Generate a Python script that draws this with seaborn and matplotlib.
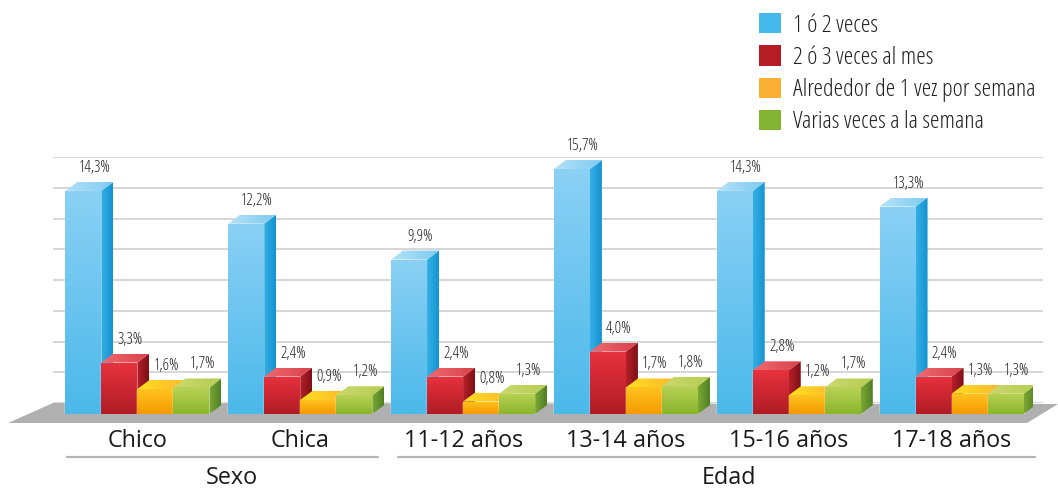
import os
import numpy as np
import pandas as pd
import matplotlib
matplotlib.use("Agg")
from matplotlib import pyplot as plt
from matplotlib.colors import LinearSegmentedColormap
from matplotlib.font_manager import FontProperties
from matplotlib.patches import Patch, Polygon
from matplotlib.transforms import Affine2D, blended_transform_factory
import seaborn as sns

categorias = ["Chico", "Chica", "11-12 años", "13-14 años", "15-16 años", "17-18 años"]
frecuencias = ["1 ó 2 veces", "2 ó 3 veces al mes", "Alrededor de 1 vez por semana", "Varias veces a la semana"]
una_dos = [14.3, 12.2, 9.9, 15.7, 14.3, 13.3]
dos_tres = [3.3, 2.4, 2.4, 4.0, 2.8, 2.4]
semanal = [1.6, 0.9, 0.8, 1.7, 1.2, 1.3]
varias = [1.7, 1.2, 1.3, 1.8, 1.7, 1.3]
valores = [una_dos, dos_tres, semanal, varias]

colores = ["#45b9ec", "#b61c23", "#fbb034", "#82b431"]
# degradados: frente (arriba, abajo), lado y tapa (izquierda, derecha)
frente = [("#8bd0f5", "#4bb9ea"), ("#e8323f", "#b01c24"), ("#ffc31f", "#f59a00"), ("#b9d256", "#8ab52c")]
lado = [("#35b0e5", "#1492d0"), ("#b5202a", "#7d1015"), ("#f7a800", "#e08a00"), ("#7ca833", "#4f7f25")]
tapa = [("#b5e2f8", "#7ccaf0"), ("#ef6a70", "#d8404a"), ("#ffdf20", "#fdb72e"), ("#cbd96e", "#b5cc50")]

W, H = 1058, 488
DX, DY = 12, 9  # profundidad de las barras en pixeles

sns.set_theme(style="white")
plt.rcParams["font.family"] = ["Open Sans", "DejaVu Sans"]


def fuente_estrecha(size):
    ruta = "/usr/share/fonts/truetype/open-sans/OpenSans-CondLight.ttf"
    if os.path.exists(ruta):
        return FontProperties(fname=ruta, size=size)
    return FontProperties(family="Open Sans", stretch="condensed", weight="light", size=size)


df = pd.DataFrame({
    "categoria": np.tile(categorias, len(frecuencias)),
    "frecuencia": np.repeat(frecuencias, len(categorias)),
    "valor": np.concatenate(valores),
})

fig = plt.figure(figsize=(W / 100, H / 100), dpi=100)
px = Affine2D().scale(1, -1).translate(0, H)  # coordenadas de imagen


def caja(x0, x1, y_sup, y_inf):
    return [x0 / W, 1 - y_inf / H, (x1 - x0) / W, (y_inf - y_sup) / H]


# pared del fondo con la rejilla
fondo = fig.add_axes(caja(53, 1043, 157, 403))
fondo.set_xlim(0, 1)
fondo.set_ylim(0, 16)
fondo.set_xticks([])
fondo.set_yticks(np.arange(0, 17, 2))
fondo.tick_params(left=False, labelleft=False)
fondo.grid(axis="y", color="#cfcfcf", linewidth=1.2)
sns.despine(ax=fondo, left=True, bottom=True)
fondo.add_patch(Polygon([(8, 423), (53, 403), (1058, 404), (1027, 423)], closed=True,
                        transform=px, facecolor="#b0b0b0", edgecolor="none", clip_on=False, zorder=2))

ax = fig.add_axes(caja(56, 1033, 102, 414))
ax.patch.set_alpha(0)
sns.barplot(data=df, x="categoria", y="valor", hue="frecuencia", order=categorias, hue_order=frecuencias,
            palette=colores, width=0.885, gap=0, errorbar=None, legend=False, ax=ax, zorder=3)
ax.set_xlim(-0.5, 5.5)
ax.set_ylim(0, 20)
ax.set_xlabel("")
ax.set_ylabel("")
ax.set_yticks([])
ax.tick_params(axis="x", length=0, pad=10.5, labelsize=16.8, labelcolor="#1a1a1a")
sns.despine(ax=ax, left=True, bottom=True)


def degradado(vertices, c1, c2, vertical, z):
    # vertices en pixeles de pantalla, se pasan a datos para recortar la imagen
    datos = ax.transData.inverted().transform(vertices)
    cmap = LinearSegmentedColormap.from_list("g", [c1, c2])
    g = np.linspace(0, 1, 64)
    g = g.reshape(-1, 1) if vertical else g.reshape(1, -1)
    x0, y0 = datos.min(axis=0)
    x1, y1 = datos.max(axis=0)
    im = ax.imshow(g, cmap=cmap, extent=(x0, x1, y0, y1), origin="upper", aspect="auto", zorder=z,
                   interpolation="bilinear")
    im.set_clip_path(Polygon(datos, closed=True, transform=ax.transData))


for i, cont in enumerate(ax.containers):
    for barra, v in zip(cont.patches, valores[i]):
        z = 3 + i
        barra.set_zorder(z)
        x0, y0 = ax.transData.transform((barra.get_x(), 0))
        x1, y1 = ax.transData.transform((barra.get_x() + barra.get_width(), v))
        degradado([(x1, y0), (x1 + DX, y0 + DY), (x1 + DX, y1 + DY), (x1, y1)], *lado[i], False, z)
        degradado([(x0, y1), (x1, y1), (x1 + DX, y1 + DY), (x0 + DX, y1 + DY)], *tapa[i], False, z)
        degradado([(x0, y0), (x1, y0), (x1, y1), (x0, y1)], *frente[i], True, z + 0.1)
        # etiqueta desplazada hacia la tapa de la barra
        ax.annotate(f"{v:.1f}%".replace(".", ","), ((barra.get_x() + barra.get_width() / 2), v),
                    xytext=(11 * 0.72, 15 * 0.72), textcoords="offset points", ha="center", va="bottom",
                    fontproperties=fuente_estrecha(11.5), color="#222222", zorder=10)

ax.set_xlim(-0.5, 5.5)
ax.set_ylim(0, 20)

# llaves de Sexo y Edad
mezcla = blended_transform_factory(ax.transData, px)
ax.plot([-0.43, 1.48], [457, 457], transform=mezcla, color="#b5b5b5", linewidth=1.6, clip_on=False)
ax.plot([1.6, 5.51], [457, 457], transform=mezcla, color="#b5b5b5", linewidth=1.6, clip_on=False)
ax.text(0.58, 478, "Sexo", transform=mezcla, ha="center", va="center", fontsize=16.8, color="#1a1a1a")
ax.text(3.63, 478, "Edad", transform=mezcla, ha="center", va="center", fontsize=16.8, color="#1a1a1a")

manejadores = [Patch(facecolor=c, edgecolor="none") for c in colores]
fig.legend(manejadores, frecuencias, loc="upper left", bbox_to_anchor=(759 / W, 1 - 13 / H), frameon=False,
           borderpad=0, borderaxespad=0, handlelength=0.905, handleheight=0.905, handletextpad=0.49, labelspacing=0.32,
           prop=fuente_estrecha(17.5), labelcolor="#222222")

fig.savefig("out.png", dpi=100)
